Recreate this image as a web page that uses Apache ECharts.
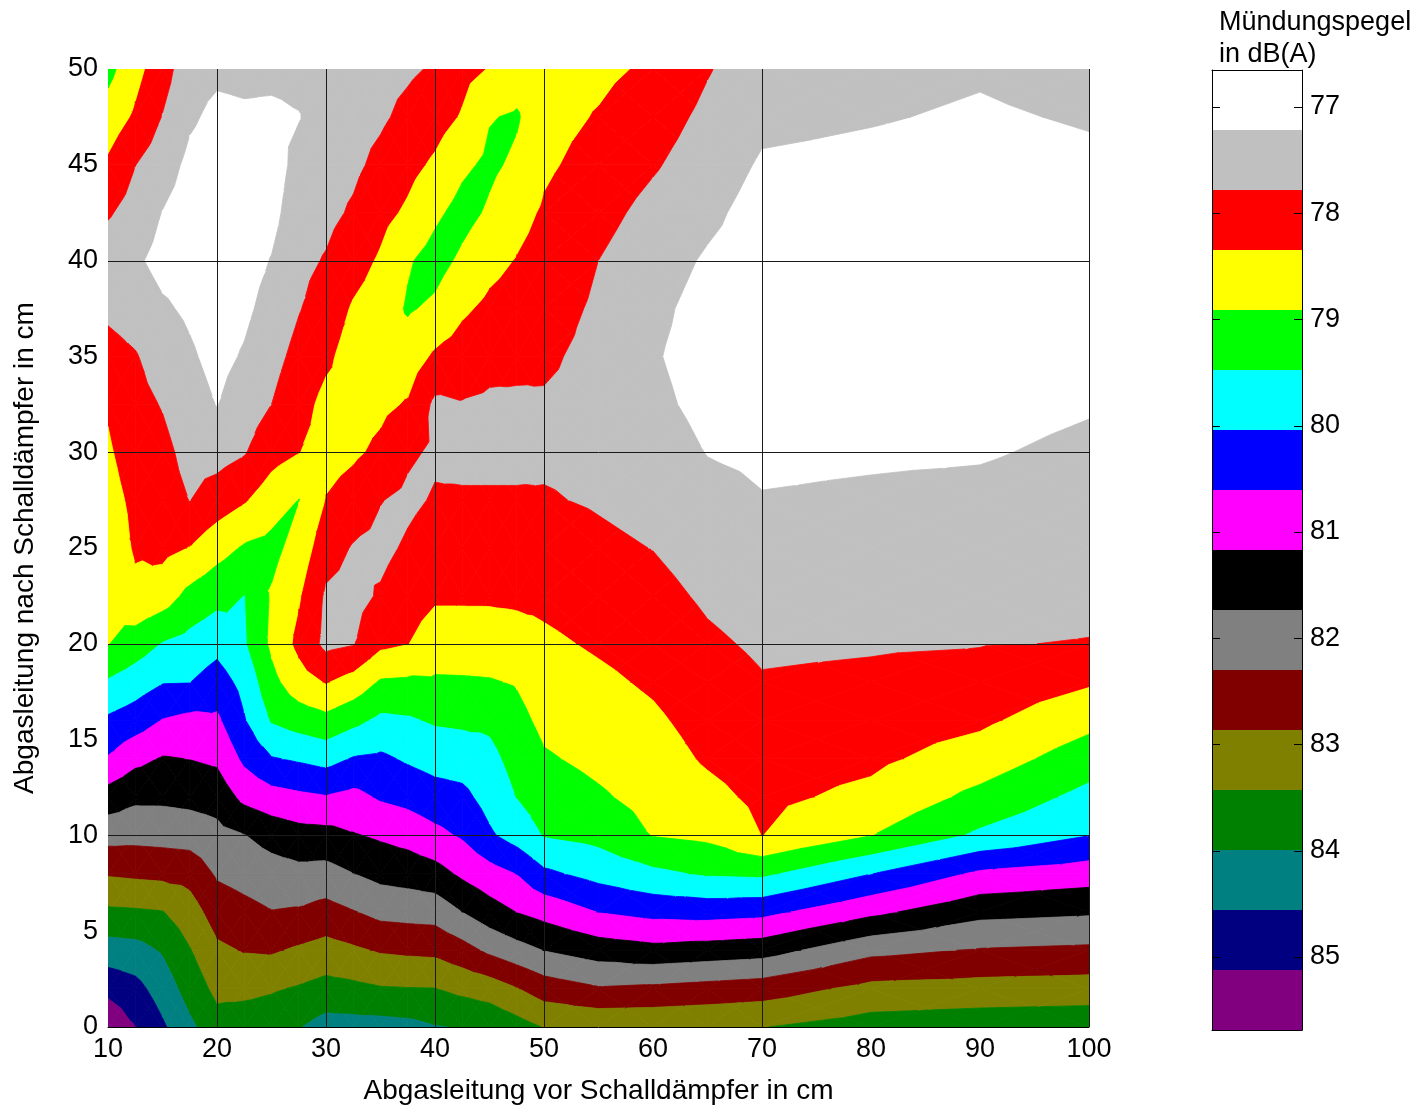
<!DOCTYPE html>
<html>
<head>
<meta charset="utf-8">
<title>Mündungspegel</title>
<script src="https://cdn.jsdelivr.net/npm/echarts@6/dist/echarts.min.js"></script>
<style>
  html, body { margin: 0; padding: 0; background: #fff; }
  #chart { width: 1425px; height: 1110px; }
</style>
</head>
<body>
<div id="chart"></div>
<script>
// Messpositionen in cm
var xPos = [10, 12.5, 15, 17.5, 20, 22.5, 25, 27.5, 30, 32.5, 35, 37.5, 40, 42.5, 45, 47.5, 50, 55, 60, 65, 70, 80, 90, 100];
var yPos = [0, 2, 4, 6, 8, 10, 12, 14, 16, 18, 20, 22.5, 25, 27.5, 30, 32.5, 35, 37.5, 40, 42.5, 45, 47.5, 50];

// Mündungspegel in dB(A), eine Spalte je x-Position (von y = 0 bis y = 50)
var col10   = [85.60, 84.96, 84.24, 83.53, 82.81, 82.10, 81.41, 80.65, 80.13, 79.53, 78.89, 78.78, 78.66, 78.53, 78.41, 78.29, 77.98, 77.67, 77.47, 77.84, 78.25, 78.66, 79.08];
var col12_5 = [85.13, 84.74, 84.19, 83.50, 82.76, 82.13, 81.62, 81.02, 80.32, 79.76, 79.18, 78.46, 78.29, 78.23, 78.09, 77.95, 77.82, 77.53, 77.30, 77.56, 77.79, 78.26, 78.52];
var col15   = [84.64, 84.30, 83.94, 83.45, 82.72, 82.10, 81.62, 81.21, 80.63, 80.01, 79.50, 78.63, 78.20, 78.01, 77.92, 77.75, 77.52, 77.29, 77.05, 77.20, 77.48, 77.76, 78.01];
var col17_5 = [84.11, 83.76, 83.46, 83.11, 82.67, 82.06, 81.57, 81.16, 80.75, 80.03, 79.66, 79.07, 78.36, 77.77, 77.61, 77.45, 77.29, 77.13, 76.99, 76.96, 77.08, 77.30, 77.44];
var col20   = [83.65, 83.28, 82.97, 82.61, 82.23, 81.90, 81.51, 81.07, 80.70, 80.29, 79.87, 79.30, 78.70, 78.04, 77.57, 77.20, 77.05, 76.93, 76.88, 76.88, 76.93, 77.08, 77.33];
var col22_5 = [83.74, 83.28, 82.83, 82.46, 82.10, 81.75, 81.02, 80.49, 80.08, 79.87, 79.53, 79.48, 78.97, 78.29, 77.74, 77.51, 77.27, 77.10, 76.99, 76.93, 76.93, 77.13, 77.36];
var col25   = [83.77, 83.37, 82.80, 82.32, 81.97, 81.53, 80.82, 80.08, 79.42, 79.07, 78.80, 78.85, 79.08, 78.64, 78.14, 77.78, 77.60, 77.42, 77.24, 77.05, 76.96, 77.10, 77.36];
var col27_5 = [83.96, 83.48, 82.94, 82.36, 81.89, 81.38, 80.72, 79.97, 79.22, 78.58, 78.20, 78.40, 78.68, 78.92, 78.33, 78.14, 77.94, 77.75, 77.64, 77.53, 77.39, 77.19, 77.39];
var col30   = [84.21, 83.62, 83.07, 82.50, 81.93, 81.35, 80.64, 79.85, 79.07, 78.31, 77.64, 77.70, 78.01, 78.32, 78.54, 78.49, 78.24, 78.04, 77.82, 77.64, 77.56, 77.50, 77.47];
var col32_5 = [84.20, 83.56, 82.95, 82.33, 81.74, 81.21, 80.76, 80.08, 79.32, 78.55, 77.75, 77.61, 77.74, 78.10, 78.43, 78.57, 78.57, 78.40, 78.13, 77.85, 77.67, 77.58, 77.53];
var col35   = [84.20, 83.47, 82.81, 82.14, 81.57, 81.09, 80.54, 80.14, 79.59, 78.97, 78.22, 77.84, 77.64, 77.80, 78.23, 78.46, 78.63, 78.60, 78.41, 78.18, 77.92, 77.70, 77.61];
var col37_5 = [84.15, 83.45, 82.76, 82.10, 81.50, 80.97, 80.43, 79.97, 79.54, 79.00, 78.33, 78.10, 77.86, 77.67, 77.87, 78.30, 78.63, 78.97, 78.85, 78.43, 78.18, 77.92, 77.70];
var col40   = [84.02, 83.44, 82.73, 82.07, 81.38, 80.75, 80.27, 79.83, 79.41, 78.98, 78.63, 78.27, 78.05, 77.83, 77.70, 77.67, 78.26, 78.80, 79.12, 78.80, 78.43, 78.12, 77.84];
var col42_5 = [83.96, 83.29, 82.51, 81.73, 81.07, 80.54, 80.18, 79.79, 79.37, 78.97, 78.63, 78.27, 78.05, 77.83, 77.67, 77.75, 78.09, 78.43, 78.80, 79.10, 78.80, 78.39, 78.18];
var col45   = [83.88, 83.16, 82.19, 81.41, 80.82, 80.12, 79.84, 79.63, 79.36, 78.95, 78.61, 78.27, 78.08, 77.83, 77.67, 77.70, 77.93, 78.23, 78.50, 78.83, 79.02, 78.88, 78.37];
var col47_5 = [83.65, 82.89, 81.94, 81.16, 80.59, 79.81, 79.46, 79.27, 79.07, 78.87, 78.56, 78.25, 78.04, 77.83, 77.67, 77.71, 77.89, 78.11, 78.32, 78.52, 78.80, 78.97, 78.63];
var col50   = [83.40, 82.59, 81.72, 80.98, 80.15, 79.44, 79.20, 78.97, 78.78, 78.61, 78.44, 78.23, 78.04, 77.82, 77.70, 77.73, 77.86, 78.00, 78.14, 78.28, 78.43, 78.52, 78.57];
var col55   = [83.34, 82.35, 81.47, 80.59, 79.85, 79.30, 78.98, 78.78, 78.61, 78.45, 78.28, 78.09, 77.89, 77.73, 77.66, 77.62, 77.64, 77.70, 77.78, 77.96, 78.14, 78.31, 78.46];
var col60   = [83.34, 82.41, 81.34, 80.43, 79.59, 78.89, 78.73, 78.58, 78.43, 78.27, 78.13, 77.95, 77.77, 77.61, 77.47, 77.33, 77.26, 77.33, 77.44, 77.61, 77.84, 78.04, 78.26];
var col65   = [83.37, 82.50, 81.42, 80.38, 79.41, 78.79, 78.50, 78.28, 78.15, 78.01, 77.87, 77.70, 77.54, 77.38, 77.20, 77.08, 77.02, 77.05, 77.16, 77.33, 77.49, 77.65, 77.82];
var col70   = [83.41, 82.59, 81.50, 80.45, 79.37, 78.34, 78.22, 78.08, 77.95, 77.82, 77.70, 77.54, 77.39, 77.24, 77.13, 77.05, 76.99, 76.96, 76.96, 77.02, 77.16, 77.33, 77.44];
var col80   = [83.68, 83.02, 82.15, 81.04, 80.03, 78.90, 78.48, 78.23, 78.05, 77.88, 77.73, 77.58, 77.43, 77.28, 77.16, 77.08, 77.02, 76.99, 76.99, 77.02, 77.10, 77.25, 77.36];
var col90   = [83.77, 83.08, 82.34, 81.57, 80.70, 79.57, 79.06, 78.61, 78.24, 77.98, 77.76, 77.61, 77.47, 77.32, 77.18, 77.08, 77.00, 76.96, 76.93, 76.96, 77.02, 77.16, 77.27];
var col100  = [83.82, 83.12, 82.41, 81.66, 80.90, 80.03, 79.64, 79.20, 78.75, 78.28, 77.80, 77.66, 77.54, 77.42, 77.30, 77.18, 77.10, 77.05, 77.02, 77.05, 77.12, 77.26, 77.39];
var columns = [col10, col12_5, col15, col17_5, col20, col22_5, col25, col27_5, col30, col32_5, col35, col37_5,
               col40, col42_5, col45, col47_5, col50, col55, col60, col65, col70, col80, col90, col100];

// Farbstufen (Grenzen in dB(A)) und Farben, von leise (oben) nach laut (unten)
var levels = [76.652, 77.217, 77.781, 78.346, 78.911, 79.476, 80.040, 80.605, 81.170,
              81.734, 82.299, 82.864, 83.428, 83.993, 84.558, 85.123, 85.687];
var bandColors = ['#ffffff', '#c0c0c0', '#ff0000', '#ffff00', '#00ff00', '#00ffff', '#0000ff', '#ff00ff',
                  '#000000', '#808080', '#800000', '#808000', '#008000', '#008080', '#000080', '#800080'];
var cbTicks = [77, 78, 79, 80, 81, 82, 83, 84, 85];

// Hilfslinien
var gridX = [20, 30, 40, 50, 70, 100];
var gridY = [10, 20, 30, 40];

var font = 'Liberation Sans, Arial, Helvetica, sans-serif';

// Dreieck an einer Pegelgrenze abschneiden
function clip(poly, lim, keepAbove) {
  var out = [];
  for (var i = 0; i < poly.length; i++) {
    var p = poly[i], q = poly[(i + 1) % poly.length];
    var pin = keepAbove ? p[2] >= lim : p[2] <= lim;
    var qin = keepAbove ? q[2] >= lim : q[2] <= lim;
    if (pin) out.push(p);
    if (pin !== qin) {
      var t = (lim - p[2]) / (q[2] - p[2]);
      out.push([p[0] + t * (q[0] - p[0]), p[1] + t * (q[1] - p[1]), lim]);
    }
  }
  return out;
}

// Sattelzelle? dann entlang der Diagonale links unten -> rechts oben teilen
function isSaddle(va, vb, vc, vd) {
  for (var k = 1; k < levels.length - 1; k++) {
    var L = levels[k];
    if (Math.min(va, vc) > L && Math.max(vb, vd) < L) return true;
    if (Math.max(va, vc) < L && Math.min(vb, vd) > L) return true;
  }
  return false;
}

// gefüllte Höhenlinien
var cells = [];
var cellPolys = [];
for (var i = 0; i < xPos.length - 1; i++) {
  for (var j = 0; j < yPos.length - 1; j++) {
    var a = [xPos[i], yPos[j], columns[i][j]];
    var b = [xPos[i + 1], yPos[j], columns[i + 1][j]];
    var c = [xPos[i + 1], yPos[j + 1], columns[i + 1][j + 1]];
    var d = [xPos[i], yPos[j + 1], columns[i][j + 1]];
    var tris;
    if (isSaddle(a[2], b[2], c[2], d[2])) {
      tris = [[a, b, c], [a, c, d]];
    } else {
      var m = [(a[0] + b[0]) / 2, (a[1] + d[1]) / 2, (a[2] + b[2] + c[2] + d[2]) / 4];
      tris = [[m, a, b], [m, b, c], [m, c, d], [m, d, a]];
    }
    var polys = [];
    tris.forEach(function (tri) {
      var vmin = Math.min(tri[0][2], tri[1][2], tri[2][2]);
      var vmax = Math.max(tri[0][2], tri[1][2], tri[2][2]);
      for (var k = 0; k < bandColors.length; k++) {
        var lo = k === 0 ? -Infinity : levels[k];
        var hi = k === bandColors.length - 1 ? Infinity : levels[k + 1];
        if (vmax < lo || vmin > hi) continue;
        var poly = tri;
        if (k > 0) poly = clip(poly, lo, true);
        if (k < bandColors.length - 1) poly = clip(poly, hi, false);
        if (poly.length >= 3) polys.push({ k: k, pts: poly });
      }
    });
    cells.push([xPos[i], yPos[j]]);
    cellPolys.push(polys);
  }
}

var chart = echarts.init(document.getElementById('chart'));

var edge = { show: true, onZero: false, lineStyle: { color: '#000', width: 1 } };

var option = {
  animation: false,
  backgroundColor: '#fff',
  title: {
    text: 'Mündungspegel\nin dB(A)',
    left: 1214,
    top: 2,
    textStyle: { fontFamily: font, fontSize: 27, fontWeight: 'normal', color: '#000', lineHeight: 32 }
  },
  grid: [
    { left: 108, top: 69, width: 981, height: 960 },
    { left: 1212, top: 70, width: 90, height: 960 }
  ],
  xAxis: [
    {
      gridIndex: 0, type: 'value', min: 10, max: 100, interval: 10, z: 10,
      name: 'Abgasleitung vor Schalldämpfer in cm',
      nameLocation: 'middle', nameGap: 50,
      nameTextStyle: { fontFamily: font, fontSize: 28, color: '#000' },
      axisLine: edge,
      axisTick: { show: false },
      axisLabel: { fontFamily: font, fontSize: 27, color: '#000', margin: 9 },
      splitLine: { show: false }
    },
    {
      gridIndex: 1, type: 'value', min: 0, max: 1, position: 'bottom', z: 10,
      axisLine: edge, axisTick: { show: false }, axisLabel: { show: false }, splitLine: { show: false }
    },
    {
      gridIndex: 1, type: 'value', min: 0, max: 1, position: 'top', z: 10,
      axisLine: edge, axisTick: { show: false }, axisLabel: { show: false }, splitLine: { show: false }
    }
  ],
  yAxis: [
    {
      gridIndex: 0, type: 'value', min: 0, max: 50, interval: 5,
      name: 'Abgasleitung nach Schalldämpfer in cm',
      nameLocation: 'middle', nameGap: 69,
      nameTextStyle: { fontFamily: font, fontSize: 28, color: '#000' },
      axisLine: { show: false },
      axisTick: { show: false },
      axisLabel: { fontFamily: font, fontSize: 27, color: '#000', margin: 10 },
      splitLine: { show: false }
    },
    {
      gridIndex: 1, type: 'value', min: levels[0], max: levels[levels.length - 1],
      inverse: true, position: 'right', z: 10,
      axisLine: edge,
      axisTick: { show: false },
      axisLabel: { customValues: cbTicks, fontFamily: font, fontSize: 27, color: '#000', margin: 8 },
      splitLine: { show: false }
    },
    {
      gridIndex: 1, type: 'value', min: levels[0], max: levels[levels.length - 1],
      inverse: true, position: 'left', z: 10,
      axisLine: edge,
      axisTick: { show: false },
      axisLabel: { show: false },
      splitLine: { show: false }
    }
  ],
  series: [
    {
      // Konturflächen
      type: 'custom',
      xAxisIndex: 0, yAxisIndex: 0,
      silent: true, clip: true, z: 1,
      data: cells,
      renderItem: function (params, api) {
        var polys = cellPolys[params.dataIndex];
        return {
          type: 'group',
          children: polys.map(function (p) {
            var col = bandColors[p.k];
            return {
              type: 'polygon',
              shape: { points: p.pts.map(function (v) { return api.coord([v[0], v[1]]); }) },
              style: { fill: col, stroke: col, lineWidth: 0.8 }
            };
          })
        };
      }
    },
    {
      // senkrechte Hilfslinien
      type: 'custom',
      xAxisIndex: 0, yAxisIndex: 0,
      silent: true, z: 5,
      data: gridX.map(function (v) { return [v, 0]; }),
      renderItem: function (params, api) {
        var p1 = api.coord([api.value(0), 0]);
        var p2 = api.coord([api.value(0), 50]);
        var x = Math.round(p1[0]) + 0.5;
        return { type: 'line', shape: { x1: x, y1: p1[1], x2: x, y2: p2[1] }, style: { stroke: '#1a1a1a', lineWidth: 1 } };
      }
    },
    {
      // waagerechte Hilfslinien
      type: 'custom',
      xAxisIndex: 0, yAxisIndex: 0,
      silent: true, z: 5,
      data: gridY.map(function (v) { return [10, v]; }),
      renderItem: function (params, api) {
        var p1 = api.coord([10, api.value(1)]);
        var p2 = api.coord([100, api.value(1)]);
        var y = Math.round(p1[1]) + 0.5;
        return { type: 'line', shape: { x1: p1[0], y1: y, x2: p2[0], y2: y }, style: { stroke: '#1a1a1a', lineWidth: 1 } };
      }
    },
    {
      // Farbskala
      type: 'custom',
      xAxisIndex: 1, yAxisIndex: 1,
      silent: true, z: 1,
      data: bandColors.map(function (c, k) { return [0.5, levels[k], levels[k + 1]]; }),
      encode: { x: 0, y: [1, 2] },
      renderItem: function (params, api) {
        var p1 = api.coord([0, api.value(1)]);
        var p2 = api.coord([1, api.value(2)]);
        return {
          type: 'rect',
          shape: { x: p1[0], y: p1[1], width: p2[0] - p1[0], height: p2[1] - p1[1] },
          style: { fill: bandColors[params.dataIndex] }
        };
      }
    },
    {
      // Teilstriche der Farbskala, innen links und rechts
      type: 'custom',
      xAxisIndex: 1, yAxisIndex: 1,
      silent: true, z: 6,
      data: cbTicks.map(function (v) { return [0.5, v]; }),
      renderItem: function (params, api) {
        var l = api.coord([0, api.value(1)]);
        var r = api.coord([1, api.value(1)]);
        var y = Math.round(l[1]) + 0.5;
        var st = { stroke: '#000', lineWidth: 1 };
        return {
          type: 'group',
          children: [
            { type: 'line', shape: { x1: l[0], y1: y, x2: l[0] + 8, y2: y }, style: st },
            { type: 'line', shape: { x1: r[0] - 8, y1: y, x2: r[0], y2: y }, style: st }
          ]
        };
      }
    }
  ]
};

chart.setOption(option);
</script>
</body>
</html>
